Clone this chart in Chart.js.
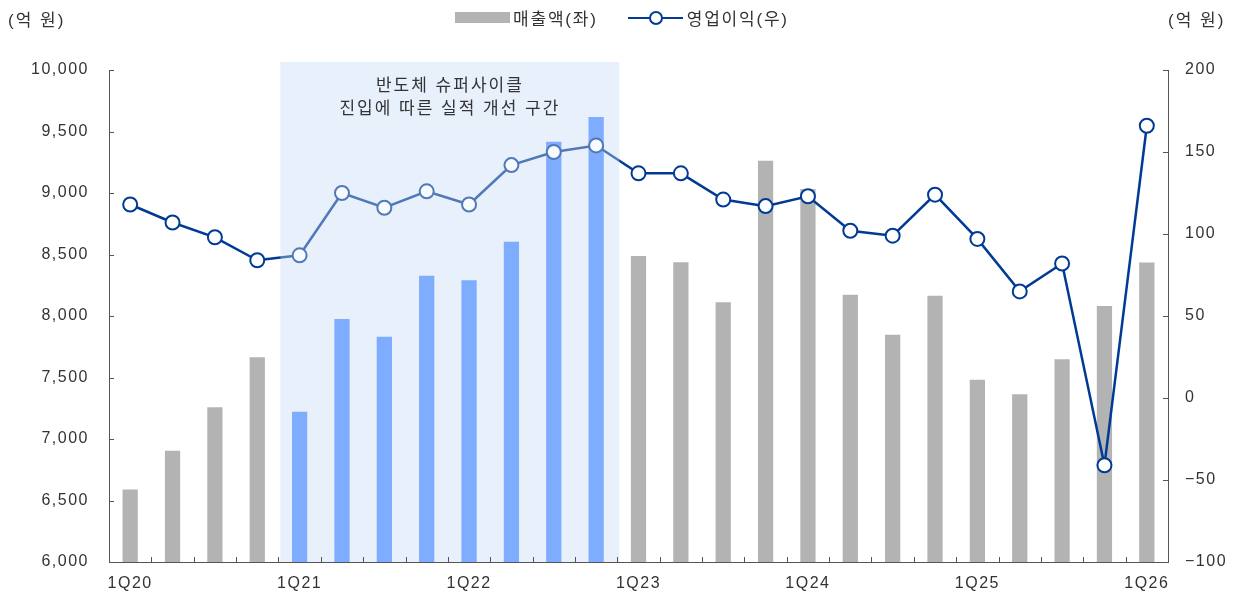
<!DOCTYPE html>
<html>
<head>
<meta charset="utf-8">
<script src="https://cdn.jsdelivr.net/npm/chart.js@4.4.1/dist/chart.umd.min.js"></script>
<style>
  body { margin: 0; background: #fff; font-family: 'Liberation Sans', 'Noto Sans CJK KR', sans-serif; color: #333; }
  #wrap { position: relative; width: 1238px; height: 596px; }
  canvas { position: absolute; left: 0; top: 0; }
  .unit { position: absolute; top: 6px; font-size: 17px; letter-spacing: 2px; }
  #legend { position: absolute; top: 5px; left: 455px; font-size: 17px; letter-spacing: 1.8px; display: flex; align-items: center; }
  .box { width: 55px; height: 11px; background: #b3b3b3; margin-right: 3px; }
  .lm { position: relative; width: 55px; height: 14px; margin: 0 4px 0 30px; }
  .lm .ln { position: absolute; left: 0; right: 0; top: 6px; height: 2.5px; background: #003a94; }
  .lm .pt { position: absolute; left: 21px; top: 0; width: 10px; height: 10px; border: 2px solid #003a94; border-radius: 50%; background: #fff; }
</style>
</head>
<body>
<div id="wrap">
  <canvas id="result" width="1238" height="596"></canvas>
  <div class="unit" style="left:8px">(억 원)</div>
  <div class="unit" style="left:1168px">(억 원)</div>
  <div id="legend">
    <div class="box"></div><span>매출액(좌)</span>
    <div class="lm"><div class="ln"></div><div class="pt"></div></div><span>영업이익(우)</span>
  </div>
</div>
<script>
const quarters = ['1Q20', '2Q20', '3Q20', '4Q20', '1Q21', '2Q21', '3Q21', '4Q21',
    '1Q22', '2Q22', '3Q22', '4Q22', '1Q23', '2Q23', '3Q23', '4Q23',
    '1Q24', '2Q24', '3Q24', '4Q24', '1Q25', '2Q25', '3Q25', '4Q25', '1Q26'];
const sales = [6590, 6905, 7258, 7664, 7222, 7976, 7832, 8328, 8290, 8604, 9417, 9618,
    8488, 8437, 8111, 9263, 9033, 8173, 7848, 8165, 7482, 7363, 7648, 8081, 8434];
const opProfit = [118, 107, 98, 84, 87, 125, 116, 126, 118, 142, 150, 154,
    137, 137, 121, 117, 123, 102, 99, 124, 97, 65, 82, -41, 166];
const salesTicks = [6000, 6500, 7000, 7500, 8000, 8500, 9000, 9500, 10000];
const profitTicks = [-100, -50, 0, 50, 100, 150, 200];
// 슈퍼사이클 구간: 1Q21 ~ 4Q22
const cycleStart = 4;
const cycleEnd = 11;
const cycleText = ['반도체 슈퍼사이클', '진입에 따른 실적 개선 구간'];

const colors = {
    gray: '#b3b3b3',
    blue: 'rgb(70, 135, 255)',
    line: '#003a94',
    shade: 'rgb(232, 240, 252)',
    axis: '#555555',
    text: '#333333'
};

const font = "'Liberation Sans', 'Noto Sans CJK KR', sans-serif";

function shadeBox (chart) {
    let x = chart.scales.x;
    let left = (x.getPixelForValue(cycleStart - 1) + x.getPixelForValue(cycleStart)) / 2 + 2;
    let right = (x.getPixelForValue(cycleEnd) + x.getPixelForValue(cycleEnd + 1)) / 2 + 2;
    return { left, right, top: chart.chartArea.top - 8, bottom: chart.chartArea.bottom };
}

const shadePlugin = {
    id: 'shade',
    beforeDraw (chart) {
        // 원본 글꼴처럼 자간을 조금 넓힘
        chart.ctx.letterSpacing = '1.5px';
    },
    beforeDatasetsDraw (chart) {
        let ctx = chart.ctx;
        let b = shadeBox(chart);
        ctx.save();
        ctx.fillStyle = colors.shade;
        ctx.fillRect(b.left, b.top, b.right - b.left, b.bottom - b.top);
        ctx.restore();
    },
    afterDatasetsDraw (chart) {
        let ctx = chart.ctx;
        let b = shadeBox(chart);
        ctx.save();
        ctx.fillStyle = 'rgba(232, 240, 252, 0.35)';
        ctx.fillRect(b.left, b.top, b.right - b.left, b.bottom - b.top);
        ctx.fillStyle = colors.text;
        ctx.font = '17px ' + font;
        ctx.letterSpacing = '2px';
        ctx.textAlign = 'center';
        ctx.textBaseline = 'middle';
        let cx = (b.left + b.right) / 2;
        ctx.fillText(cycleText[0], cx, 86);
        ctx.fillText(cycleText[1], cx, 109);
        ctx.restore();
    },
    afterDraw (chart) {
        // 축 안쪽으로 향하는 눈금
        let ctx = chart.ctx;
        let { x, y, y1 } = chart.scales;
        let area = chart.chartArea;
        ctx.save();
        ctx.strokeStyle = colors.axis;
        ctx.lineWidth = 1;
        ctx.beginPath();
        salesTicks.forEach(v => {
            let py = Math.round(y.getPixelForValue(v)) + 0.5;
            ctx.moveTo(area.left, py);
            ctx.lineTo(area.left + 5, py);
        });
        profitTicks.forEach(v => {
            let py = Math.round(y1.getPixelForValue(v)) + 0.5;
            ctx.moveTo(area.right, py);
            ctx.lineTo(area.right - 5, py);
        });
        for (let i = 1; i < quarters.length; i++) {
            let px = Math.round((x.getPixelForValue(i - 1) + x.getPixelForValue(i)) / 2) + 0.5;
            ctx.moveTo(px, area.bottom);
            ctx.lineTo(px, area.bottom - 5);
        }
        ctx.stroke();
        ctx.restore();
    }
};

let data = {
    labels: quarters,
    datasets: [
        {
            type: 'line',
            label: '영업이익(우)',
            data: opProfit,
            yAxisID: 'y1',
            order: 0,
            borderColor: colors.line,
            borderWidth: 2.5,
            pointRadius: 7,
            pointHoverRadius: 7,
            pointBorderWidth: 2,
            pointBackgroundColor: '#ffffff',
            pointBorderColor: colors.line,
            tension: 0
        },
        {
            type: 'bar',
            label: '매출액(좌)',
            data: sales,
            yAxisID: 'y',
            order: 1,
            backgroundColor: sales.map((v, i) => (i >= cycleStart && i <= cycleEnd) ? colors.blue : colors.gray),
            categoryPercentage: 1,
            barPercentage: 0.36
        }
    ]
};

let options = {
    responsive: false,
    animation: false,
    layout: { padding: { top: 70, left: 0, right: 0, bottom: 0 } },
    plugins: {
        legend: { display: false },
        tooltip: { enabled: false }
    },
    scales: {
        x: {
            grid: { display: false },
            border: { display: true, color: colors.axis, width: 1 },
            ticks: {
                autoSkip: false,
                maxRotation: 0,
                color: colors.text,
                font: { size: 16, family: font },
                padding: 4,
                callback: (v, i) => i % 4 === 0 ? quarters[i] : ''
            },
            afterFit: s => { s.height = 34; }
        },
        y: {
            position: 'left',
            min: 6000,
            max: 10000,
            grid: { display: false },
            border: { display: true, color: colors.axis, width: 1 },
            ticks: {
                stepSize: 500,
                color: colors.text,
                font: { size: 16, family: font },
                padding: 12,
                callback: v => v.toLocaleString('en-US')
            },
            afterFit: s => { s.width = 109; }
        },
        y1: {
            position: 'right',
            min: -100,
            max: 200,
            grid: { display: false },
            border: { display: true, color: colors.axis, width: 1 },
            ticks: {
                stepSize: 50,
                color: colors.text,
                font: { size: 16, family: font },
                padding: 9,
                callback: v => v < 0 ? '\u2212' + Math.abs(v) : '' + v
            },
            afterFit: s => { s.width = 70; }
        }
    }
};

function mountChart () {
    let ctx = document.getElementById('result').getContext('2d');
    new Chart(ctx, { data, options, plugins: [shadePlugin] });
}

mountChart();
</script>
</body>
</html>
